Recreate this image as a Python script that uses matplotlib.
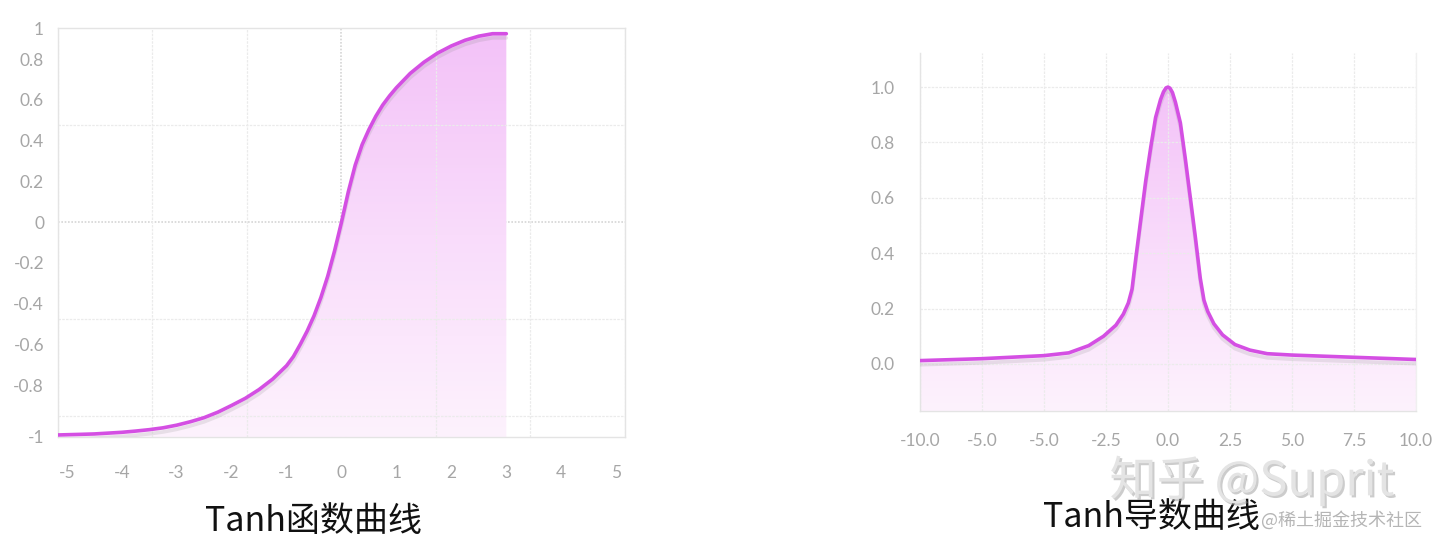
import numpy as np
import matplotlib
matplotlib.use('Agg')
import matplotlib.pyplot as plt
from matplotlib.colors import LinearSegmentedColormap
from matplotlib import patheffects as pe

plt.rcParams['axes.unicode_minus'] = False

# Values
tanh_x = [-5.16, -4.75, -4.5, -4.25, -4.0, -3.75, -3.5, -3.25, -3.0, -2.75, -2.5, -2.25, -2.0, -1.75,
          -1.5, -1.25, -1.0, -0.875, -0.75, -0.625, -0.5, -0.375, -0.25, -0.125, 0.0, 0.125, 0.25,
          0.375, 0.5, 0.625, 0.75, 0.875, 1.0, 1.25, 1.5, 1.75, 2.0, 2.25, 2.5, 2.75, 3.0]
tanh_y = [-1.045, -1.042, -1.04, -1.036, -1.032, -1.026, -1.019, -1.01, -0.997, -0.98, -0.96, -0.933,
          -0.9, -0.865, -0.822, -0.77, -0.705, -0.66, -0.6, -0.535, -0.46, -0.37, -0.265, -0.14, 0.0,
          0.15, 0.28, 0.38, 0.455, 0.52, 0.575, 0.62, 0.66, 0.73, 0.785, 0.83, 0.865, 0.893, 0.913,
          0.925, 0.925]

dtanh_x = [-10, -7.5, -5, -4, -3.2, -2.6, -2.1, -1.8, -1.6, -1.45, -1.3, -1.1, -0.9, -0.7, -0.5, -0.3,
           -0.18, -0.08, 0.0, 0.08, 0.18, 0.3, 0.5, 0.7, 0.9, 1.1, 1.3, 1.45, 1.6, 1.85, 2.2, 2.7, 3.3,
           4.0, 5.0, 7.5, 10]
dtanh_y = [0.012, 0.019, 0.03, 0.04, 0.066, 0.1, 0.14, 0.18, 0.22, 0.27, 0.38, 0.52, 0.66, 0.78, 0.89,
           0.955, 0.983, 0.997, 1.0, 0.996, 0.98, 0.945, 0.87, 0.74, 0.6, 0.46, 0.31, 0.23, 0.19, 0.145,
           0.105, 0.07, 0.05, 0.037, 0.032, 0.024, 0.016]

left_xticks = [-5, -4, -3, -2, -1, 0, 1, 2, 3, 4, 5]
left_yticks = [-1.054, -0.8, -0.6, -0.4, -0.2, 0, 0.2, 0.4, 0.6, 0.8, 0.952]
left_ylabels = ['-1', '-0.8', '-0.6', '-0.4', '-0.2', '0', '0.2', '0.4', '0.6', '0.8', '1']
left_xgrid = [-5.16, -3.44, -1.72, 0, 1.72, 3.44, 5.16]
left_ygrid = [-0.952, -0.476, 0, 0.476, 0.952]

right_xticks = [-10, -7.5, -5, -2.5, 0, 2.5, 5, 7.5, 10]
right_xlabels = ['-10.0', '-5.0', '-5.0', '-2.5', '0.0', '2.5', '5.0', '7.5', '10.0']
right_yticks = [0, 0.2, 0.4, 0.6, 0.8, 1.0]
right_ylabels = ['0.0', '0.2', '0.4', '0.6', '0.8', '1.0']

LINE = '#d44fe3'
TICK = '#a6a6a6'
GRID = '#ebebeb'

fill_cmap = LinearSegmentedColormap.from_list('pinkfade', ['#fdf2fd', '#f9dcfb', '#f3c2f8'])


def gradient_fill(ax, x, y, floor):
    poly = ax.fill_between(x, y, floor, facecolor='none', edgecolor='none')
    grad = np.linspace(0, 1, 256).reshape(-1, 1)
    im = ax.imshow(grad, extent=[x[0], x[-1], floor, max(y)], origin='lower',
                   aspect='auto', cmap=fill_cmap, zorder=1)
    im.set_clip_path(poly.get_paths()[0], transform=ax.transData)


def style(ax):
    for s in ax.spines.values():
        s.set_color('#e4e4e4')
        s.set_linewidth(1.0)
    ax.tick_params(length=0, colors=TICK, labelsize=12.5)
    for lab in ax.get_xticklabels() + ax.get_yticklabels():
        lab.set_fontfamily('Lato')


fig = plt.figure(figsize=(14.4, 5.48), dpi=100)

# ---- left: tanh
ax1 = fig.add_axes([58 / 1440, 1 - 437 / 548, 567 / 1440, 409 / 548])
ax1.set_xticks(left_xgrid, minor=True)
ax1.set_yticks(left_ygrid, minor=True)
ax1.grid(which='minor', color=GRID, linestyle=(0, (2, 1)), linewidth=0.9)
ax1.axhline(0, color='#d6d6d6', linestyle=(0, (1, 1)), linewidth=1.2, zorder=0.5)
ax1.axvline(0, color='#d6d6d6', linestyle=(0, (1, 1)), linewidth=1.2, zorder=0.5)
ylo1, yhi1 = -1.055, 0.953
gradient_fill(ax1, tanh_x, tanh_y, ylo1)
ax1.plot(tanh_x, tanh_y, color=LINE, linewidth=2.6, zorder=3, solid_capstyle='round',
         solid_joinstyle='round',
         path_effects=[pe.SimpleLineShadow(offset=(0, -3), shadow_color='#888888', alpha=0.18), pe.Normal()])
ax1.set_xlim(-5.16, 5.16)
ax1.set_ylim(ylo1, yhi1)
ax1.set_xticks(left_xticks)
ax1.set_yticks(left_yticks, left_ylabels)
ax1.tick_params(axis='x', pad=20)
ax1.tick_params(axis='y', pad=10)
ax1.tick_params(which='minor', length=0)
style(ax1)

# ---- right: tanh derivative
ax2 = fig.add_axes([920 / 1440, 1 - 411 / 548, 496 / 1440, 358 / 548])
ax2.grid(color=GRID, linestyle=(0, (2, 1)), linewidth=0.9)
ylo2, yhi2 = -0.17, 1.123
gradient_fill(ax2, dtanh_x, dtanh_y, ylo2)
ax2.plot(dtanh_x, dtanh_y, color=LINE, linewidth=2.6, zorder=3, solid_capstyle='round',
         solid_joinstyle='round',
         path_effects=[pe.SimpleLineShadow(offset=(0, -3), shadow_color='#888888', alpha=0.18), pe.Normal()])
ax2.set_xlim(-10, 10)
ax2.set_ylim(ylo2, yhi2)
ax2.set_xticks(right_xticks, right_xlabels)
ax2.set_yticks(right_yticks, right_ylabels)
ax2.tick_params(axis='x', pad=16)
ax2.tick_params(axis='y', pad=18)
style(ax2)
ax2.spines['top'].set_visible(False)
ax2.spines['right'].set_color('#f0f0f0')

# ---- captions and watermarks
cjk = ['Noto Sans CJK SC', 'DejaVu Sans']
fig.text(313 / 1440, 1 - 522 / 548, 'Tanh函数曲线', ha='center', va='center',
         fontsize=24.5, family=cjk, color='#111111')
fig.text(1151 / 1440, 1 - 518 / 548, 'Tanh导数曲线', ha='center', va='center',
         fontsize=24.5, family=cjk, color='#111111')
fig.text(1252 / 1440, 1 - 481 / 548, '知乎 @Suprit', ha='center', va='center',
         fontsize=34, family=cjk, color='#e4e4e4',
         path_effects=[pe.withSimplePatchShadow(offset=(1.5, -1.5), shadow_rgbFace='#9a9a9a', alpha=0.5)])
fig.text(1342 / 1440, 1 - 520 / 548, '@稀土掘金技术社区', ha='center', va='center',
         fontsize=13, family=cjk, color='#b5b5b5')

fig.savefig('out.png', dpi=100)
